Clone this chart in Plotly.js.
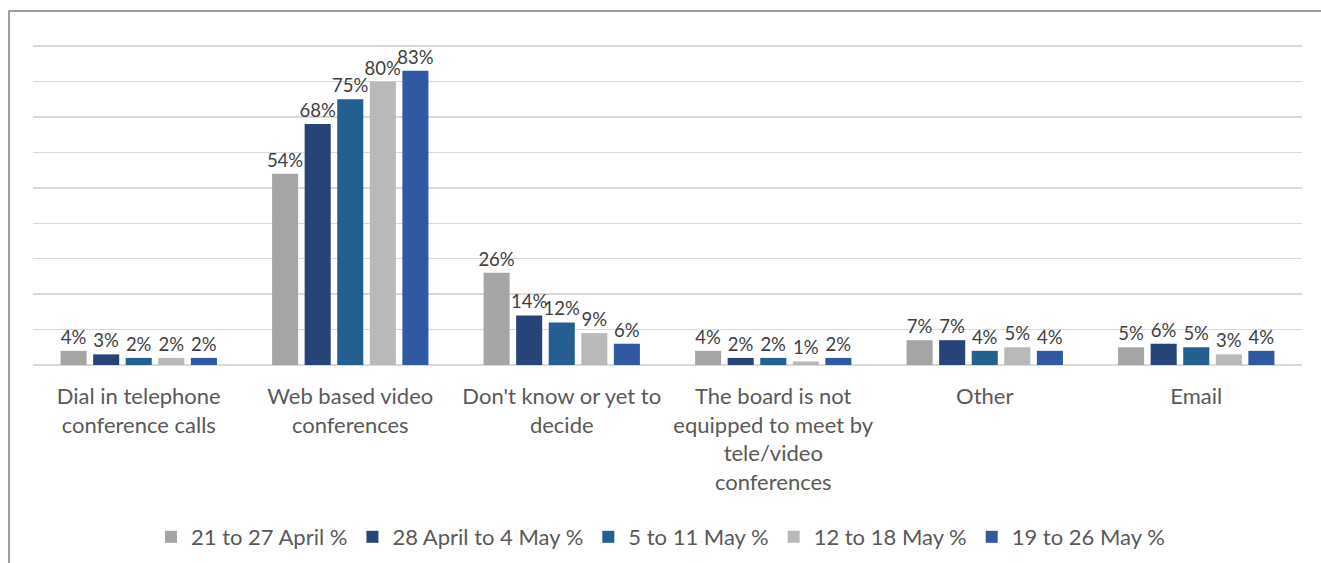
<!DOCTYPE html>
<html>
<head>
<meta charset="utf-8">
<script src="https://cdn.plot.ly/plotly-3.0.1.min.js"></script>
<style>
html,body{margin:0;padding:0;background:#fff;}
#chart{width:1321px;height:563px;}
</style>
</head>
<body>
<div id="chart"></div>
<script>
const categories = [
  "Dial in telephone<br>conference calls",
  "Web based video<br>conferences",
  "Don't know or yet to<br>decide",
  "The board is not<br>equipped to meet by<br>tele/video<br>conferences",
  "Other",
  "Email"
];
const seriesNames = ["21 to 27 April %", "28 April to 4 May %", "5 to 11 May %", "12 to 18 May %", "19 to 26 May %"];
const week1 = [4, 54, 26, 4, 7, 5];
const week2 = [3, 68, 14, 2, 7, 6];
const week3 = [2, 75, 12, 2, 4, 5];
const week4 = [2, 80, 9, 1, 5, 3];
const week5 = [2, 83, 6, 2, 4, 4];
const seriesColors = ["#A5A5A5", "#264478", "#255E91", "#B9B9B9", "#3158A3"];

const allSeries = [week1, week2, week3, week4, week5];
const traces = allSeries.map((vals, i) => ({
  type: "bar",
  name: seriesNames[i],
  x: categories,
  y: vals,
  marker: {color: seriesColors[i]},
  text: vals.map(v => v + "%"),
  textposition: "outside",
  constraintext: "none",
  cliponaxis: false,
  textfont: {family: "Lato, sans-serif", size: 18.5, color: "#404040"},
  hoverinfo: "none"
}));

const layout = {
  width: 1321,
  height: 563,
  margin: {l: 33, r: 19, t: 45, b: 198},
  paper_bgcolor: "#ffffff",
  plot_bgcolor: "#ffffff",
  barmode: "group",
  bargap: 0.23,
  bargroupgap: 0.2,
  font: {family: "Lato, sans-serif", color: "#595959"},
  xaxis: {
    showgrid: false,
    showline: false,
    ticks: "",
    ticklabelstandoff: 16,
    tickfont: {family: "Lato, sans-serif", size: 22, color: "#595959"},
    tickangle: 0,
    automargin: false
  },
  yaxis: {
    range: [0, 90.3],
    tick0: 0,
    dtick: 10,
    showticklabels: false,
    gridcolor: "#D9D9D9",
    gridwidth: 1.5,
    zeroline: true,
    zerolinecolor: "#D9D9D9",
    zerolinewidth: 1.5,
    showline: false,
    automargin: false,
    fixedrange: true
  },
  showlegend: true,
  legend: {
    orientation: "h",
    x: 0.5,
    xref: "container",
    xanchor: "center",
    y: (563 - 537) / 563,
    yref: "container",
    yanchor: "middle",
    font: {family: "Lato, sans-serif", size: 22, color: "#595959"},
    traceorder: "normal"
  },
  shapes: [{
    type: "rect",
    xref: "paper", yref: "paper",
    x0: (9 - 33) / 1269, x1: (1323 - 33) / 1269,
    y0: -0.75, y1: 1 + (45 - 11) / 320,
    line: {color: "#7F7F7F", width: 1.5},
    layer: "below"
  }]
};

Plotly.newPlot("chart", traces, layout, {staticPlot: true, displayModeBar: false});
</script>
</body>
</html>
